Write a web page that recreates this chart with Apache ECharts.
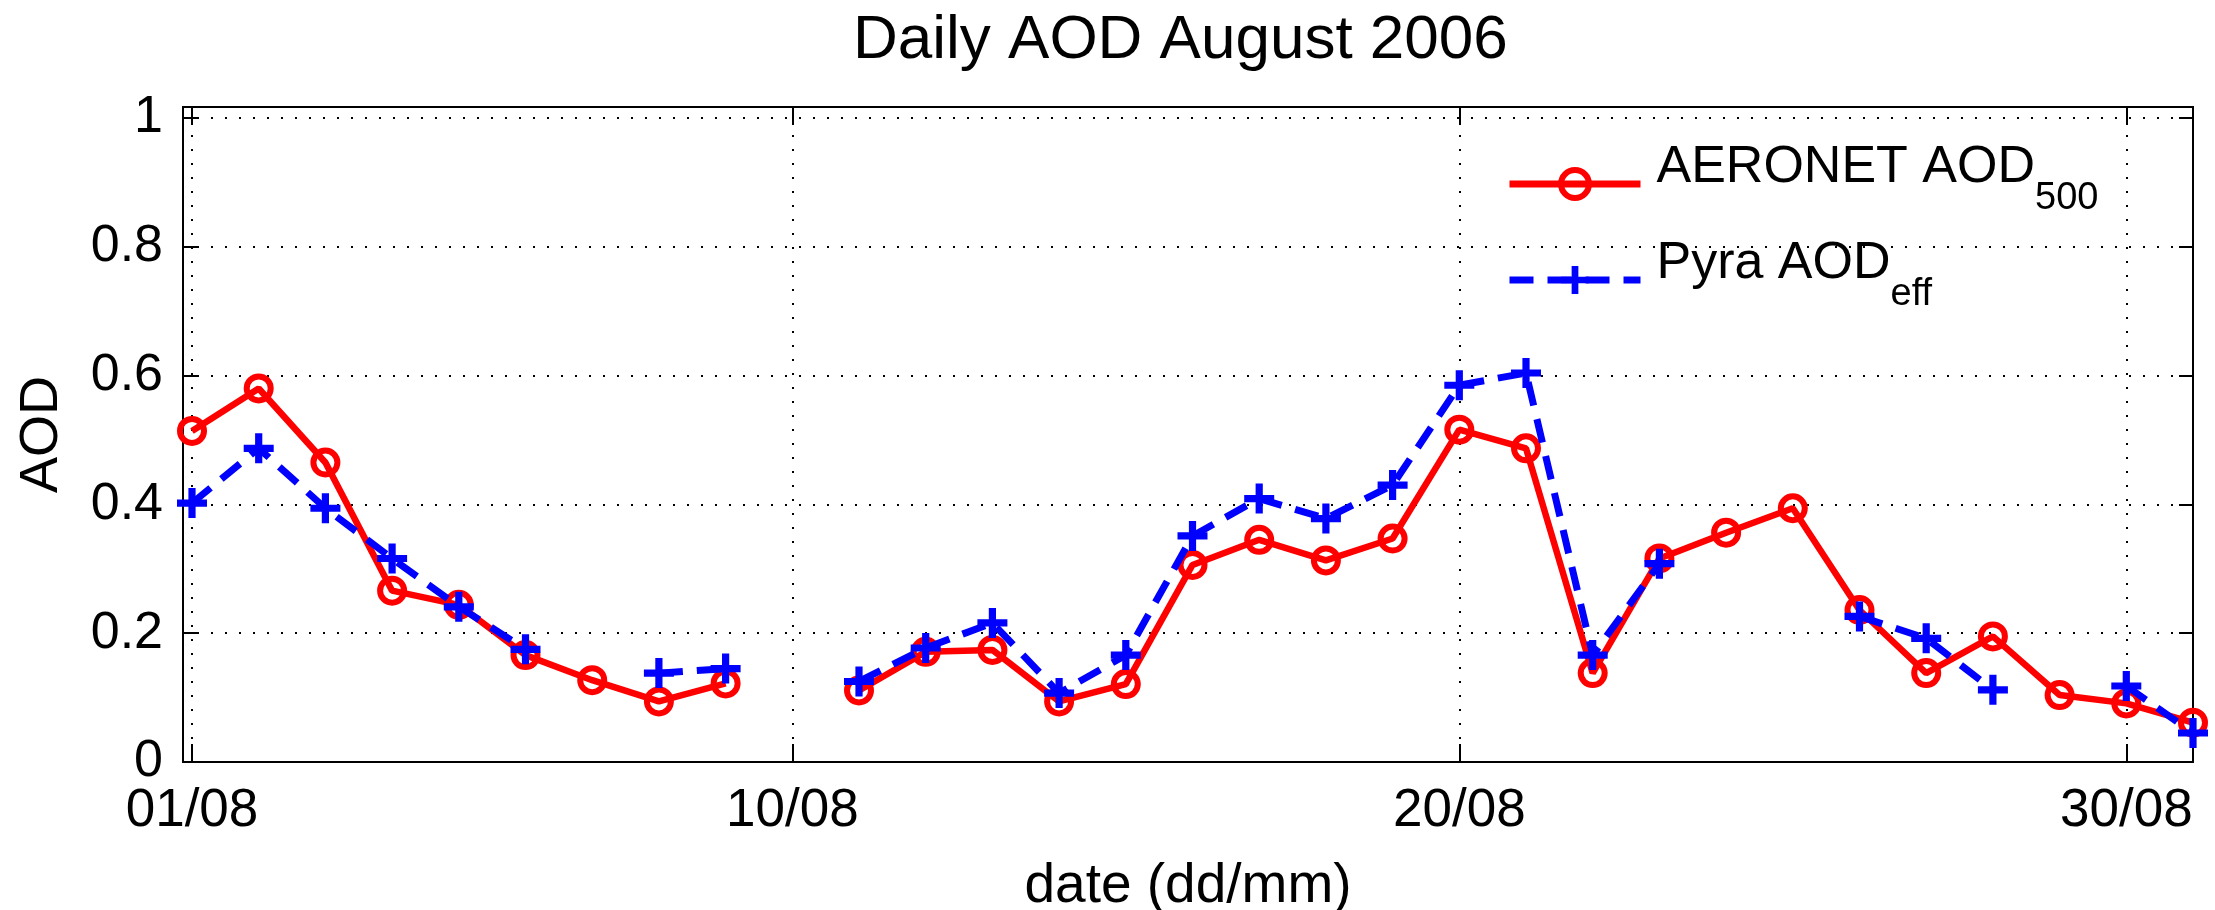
<!DOCTYPE html>
<html>
<head>
<meta charset="utf-8">
<script src="https://cdn.jsdelivr.net/npm/echarts@6/dist/echarts.min.js"></script>
<style>
    html, body { margin: 0; padding: 0; background: #fff; }
    #chart { width: 2215px; height: 910px; }
</style>
</head>
<body>
<div id="chart"></div>
<script>
// day of month, August 2006
var days = [1, 2, 3, 4, 5, 6, 7, 8, 9, 10, 11, 12, 13, 14, 15, 16, 17, 18, 19, 20,
    21, 22, 23, 24, 25, 26, 27, 28, 29, 30, 31];
// AERONET AOD at 500 nm (null = no data)
var aeronet = [0.514, 0.580, 0.465, 0.266, 0.244, 0.166, 0.127, 0.094, 0.122, null,
    0.111, 0.171, 0.174, 0.094, 0.121, 0.306, 0.345, 0.313, 0.347, 0.516,
    0.487, 0.138, 0.316, 0.356, 0.394, 0.236, 0.138, 0.195, 0.104, 0.091, 0.061];
// Pyranometer effective AOD
var pyra = [0.402, 0.487, 0.394, 0.316, 0.241, 0.175, null, 0.138, 0.145, null,
    0.125, 0.177, 0.216, 0.107, 0.166, 0.351, 0.409, 0.378, 0.430, 0.585,
    0.604, 0.166, 0.308, null, null, 0.226, 0.192, 0.112, null, 0.118, 0.045];

var xTickDays = [1, 10, 20, 30];
var xTickLabels = ['01/08', '10/08', '20/08', '30/08'];

var FONT = 'Liberation Sans, Arial, Helvetica, sans-serif';
var PLUS = 'path://M38,0H62V38H100V62H62V100H38V62H0V38H38Z';

function toPairs(vals) {
    var out = [];
    for (var i = 0; i < days.length; i++) {
        out.push([days[i], vals[i] == null ? '-' : vals[i]]);
    }
    return out;
}

var legendText = {
    'AERONET AOD500': ['AERONET AOD', '500'],
    'Pyra AODeff': ['Pyra AOD', 'eff']
};

var chart = echarts.init(document.getElementById('chart'));

var gridLine = {
    show: true,
    lineStyle: { color: '#000', width: 2, type: [2, 12] }
};

var option = {
    animation: false,
    backgroundColor: '#fff',
    title: {
        text: 'Daily AOD August 2006',
        left: 853,
        top: 10,
        padding: 0,
        textStyle: { fontFamily: FONT, fontSize: 62, fontWeight: 'normal', color: '#000' }
    },
    grid: {
        left: 183,
        right: 22,
        top: 107,
        bottom: 148,
        outerBoundsMode: 'none',
        containLabel: false,
        show: true,
        borderColor: '#000',
        borderWidth: 2,
        backgroundColor: '#fff'
    },
    legend: {
        orient: 'vertical',
        left: 1506,
        top: 142,
        padding: 0,
        itemGap: 20,
        itemWidth: 131,
        itemHeight: 35,
        selectedMode: false,
        data: [
            { name: 'AERONET AOD500', itemStyle: { borderWidth: 6 }, lineStyle: { width: 7 } },
            { name: 'Pyra AODeff', lineStyle: { width: 7 } }
        ],
        formatter: function (name) {
            var t = legendText[name];
            return '{a|' + t[0] + '}{s|' + t[1] + '}';
        },
        textStyle: {
            color: '#000',
            rich: {
                a: { fontFamily: FONT, fontSize: 52, color: '#000', verticalAlign: 'top', padding: [0, 0, 0, 11] },
                s: { fontFamily: FONT, fontSize: 38, color: '#000', verticalAlign: 'top', padding: [38, 0, 8, 0] }
            }
        }
    },
    xAxis: [{
        type: 'value',
        min: 0.865,
        max: 31,
        name: 'date (dd/mm)',
        nameLocation: 'middle',
        nameGap: 97,
        nameTextStyle: { fontFamily: FONT, fontSize: 55, color: '#000' },
        axisLine: { show: true, onZero: false, lineStyle: { color: '#000', width: 2 } },
        axisTick: { show: true, inside: true, length: 18, customValues: xTickDays, lineStyle: { color: '#000', width: 2 } },
        axisLabel: {
            customValues: xTickDays,
            margin: 23,
            fontFamily: FONT, fontSize: 53, color: '#000',
            formatter: function (v) {
                var i = xTickDays.indexOf(Math.round(v));
                return i >= 0 ? xTickLabels[i] : '';
            }
        },
        splitLine: gridLine
    }, {
        type: 'value',
        position: 'top',
        min: 0.865,
        max: 31,
        axisLine: { show: true, onZero: false, lineStyle: { color: '#000', width: 2 } },
        axisTick: { show: true, inside: true, length: 18, customValues: xTickDays, lineStyle: { color: '#000', width: 2 } },
        axisLabel: { show: false },
        splitLine: { show: false }
    }],
    yAxis: [{
        type: 'value',
        min: 0,
        max: 1.017,
        interval: 0.2,
        name: 'AOD',
        nameLocation: 'middle',
        nameRotate: 90,
        nameGap: 114,
        nameTextStyle: { fontFamily: FONT, fontSize: 54, color: '#000' },
        axisLine: { show: true, onZero: false, lineStyle: { color: '#000', width: 2 } },
        axisTick: { show: true, inside: true, length: 14, lineStyle: { color: '#000', width: 2 } },
        axisLabel: {
            margin: 20,
            fontFamily: FONT, fontSize: 52, color: '#000',
            formatter: function (v) {
                return v > 1.001 ? '' : String(Math.round(v * 10) / 10);
            }
        },
        splitLine: gridLine
    }, {
        type: 'value',
        position: 'right',
        min: 0,
        max: 1.017,
        interval: 0.2,
        axisLine: { show: true, onZero: false, lineStyle: { color: '#000', width: 2 } },
        axisTick: { show: true, inside: true, length: 14, lineStyle: { color: '#000', width: 2 } },
        axisLabel: { show: false },
        splitLine: { show: false }
    }],
    series: [{
        name: 'AERONET AOD500',
        type: 'line',
        data: toPairs(aeronet),
        clip: false,
        symbol: 'circle',
        symbolSize: 24,
        itemStyle: { color: 'rgba(0,0,0,0)', borderColor: '#ff0000', borderWidth: 6 },
        lineStyle: { color: '#ff0000', width: 6.5 },
        z: 3
    }, {
        name: 'Pyra AODeff',
        type: 'line',
        data: toPairs(pyra),
        clip: false,
        symbol: PLUS,
        symbolSize: 30,
        itemStyle: { color: '#0000ff', borderWidth: 0 },
        lineStyle: { color: '#0000ff', width: 7, type: [24, 14] },
        z: 4
    }]
};

chart.setOption(option);
</script>
</body>
</html>
